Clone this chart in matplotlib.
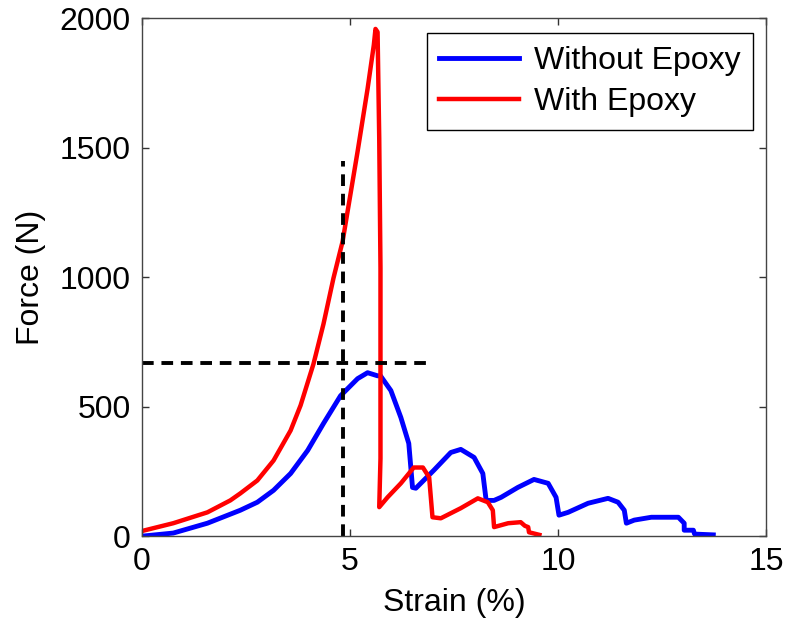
import numpy as np
import matplotlib
matplotlib.use("Agg")
import matplotlib.pyplot as plt

plt.rcParams['font.family'] = ['Liberation Sans', 'DejaVu Sans']

# Without epoxy: strain (%) and force (N)
strain_no_epoxy = [0.0, 0.75, 1.57, 2.36, 2.77, 3.16, 3.57, 3.98, 4.36, 4.77, 5.18, 5.42,
                   5.66, 5.73, 5.98, 6.22, 6.41, 6.50, 6.58, 7.01, 7.42, 7.66, 7.98, 8.19,
                   8.27, 8.46, 8.63, 9.03, 9.42, 9.76, 9.95, 10.02, 10.24, 10.72, 11.20,
                   11.44, 11.59, 11.64, 11.83, 12.24, 12.89, 13.03, 13.03, 13.25, 13.28, 13.73]
force_no_epoxy = [0, 12, 50, 100, 131, 177, 242, 331, 435, 542, 608, 631,
                  619, 619, 562, 458, 358, 188, 185, 254, 323, 335, 304, 242,
                  138, 138, 150, 188, 219, 204, 150, 81, 92, 127, 146,
                  131, 100, 50, 62, 73, 73, 50, 23, 23, 8, 5]

# With epoxy
strain_epoxy = [0.0, 0.75, 1.57, 2.12, 2.36, 2.77, 3.16, 3.57, 3.81, 4.12, 4.36, 4.60,
                4.82, 4.94, 5.18, 5.42, 5.57, 5.61, 5.66, 5.70, 5.73, 5.73, 5.70,
                5.90, 6.22, 6.53, 6.75, 6.90, 6.98, 7.18, 7.66, 8.07, 8.31, 8.43,
                8.46, 8.80, 9.10, 9.20, 9.28, 9.30, 9.55]
force_epoxy = [20, 50, 92, 138, 165, 215, 292, 408, 505, 665, 819, 996,
               1138, 1254, 1485, 1727, 1896, 1958, 1946, 1535, 1035, 300, 112,
               150, 204, 265, 265, 227, 73, 69, 108, 146, 131, 100,
               35, 50, 54, 40, 35, 15, 5]

# dashed guide lines
guide_x = 4.82
guide_x_top = 1450
guide_y = 668
guide_y_end = 7.0

fig = plt.figure(figsize=(7.85, 6.22), dpi=100)
ax = fig.add_axes([0.181, 0.138, 0.795, 0.833])

ax.plot(strain_no_epoxy, force_no_epoxy, color='#0000ff', lw=3.5, label='Without Epoxy')
ax.plot(strain_epoxy, force_epoxy, color='#ff0000', lw=3.2, label='With Epoxy')
ax.plot([guide_x, guide_x], [0, guide_x_top], color='black', lw=2.8, ls=(0, (3, 2)))
ax.plot([0, guide_y_end], [guide_y, guide_y], color='black', lw=2.8, ls=(0, (3, 2)))

ax.set_xlim(0, 15)
ax.set_ylim(0, 2000)
ax.set_xticks([0, 5, 10, 15])
ax.set_yticks([0, 500, 1000, 1500, 2000])
ax.tick_params(direction='in', length=5, width=1, top=True, right=True,
               labelsize=23, pad=8, color='#333333')
for s in ax.spines.values():
    s.set_color('#444444')
    s.set_linewidth(1.0)

ax.set_xlabel('Strain (%)', fontsize=23, labelpad=8)
ax.set_ylabel('Force (N)', fontsize=23, labelpad=10)

leg = ax.legend(loc='upper right', bbox_to_anchor=(0.979, 0.971), borderaxespad=0,
                fontsize=23, handlelength=2.5, handletextpad=0.45, labelspacing=0.35,
                fancybox=False, framealpha=1, borderpad=0.4)
leg.get_frame().set_edgecolor('black')
leg.get_frame().set_linewidth(1.0)

fig.savefig('out.png', dpi=100)
